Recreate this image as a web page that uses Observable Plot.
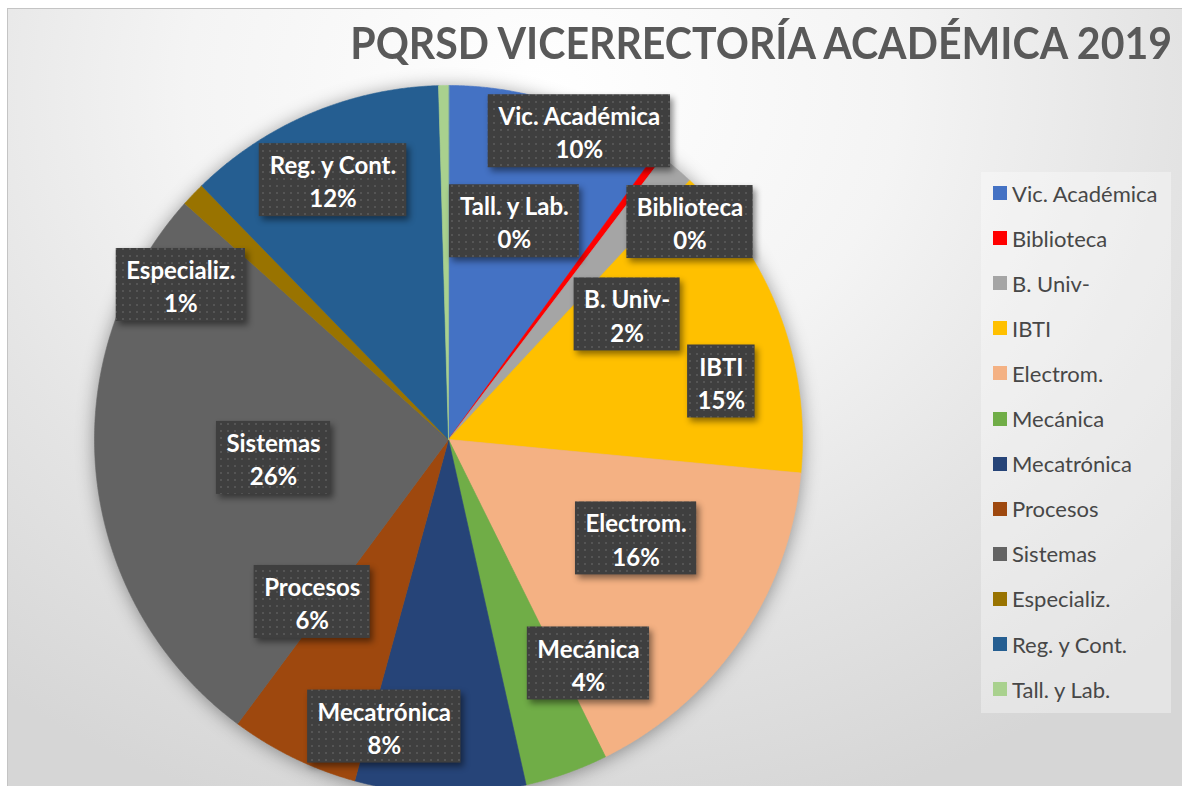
<!DOCTYPE html>
<html>
<head>
<meta charset="utf-8">
<script src="https://cdn.jsdelivr.net/npm/d3@7"></script>
<script src="https://cdn.jsdelivr.net/npm/@observablehq/plot@0.6"></script>
<style>
  html, body { margin: 0; padding: 0; background: #ffffff; }
  #chart { position: relative; width: 1182px; height: 786px; overflow: hidden; background: #ffffff; }
  #frame { position: absolute; left: 7px; top: 8px; width: 1190px; height: 800px;
    border: 1.5px solid #c4c4c4;
    background: radial-gradient(ellipse 75% 95% at 45% 10%, #ffffff 0%, #f4f4f4 40%, #e4e4e4 70%, #d6d6d6 100%); }
  #plot { position: absolute; left: 0; top: 0; }
  #title { position: absolute; right: 10px; top: 20px; white-space: nowrap;
    font-family: Lato, "Open Sans", sans-serif; font-weight: 700; font-size: 44px; line-height: 44px;
    color: #595959; transform-origin: right center; }
  #legend { position: absolute; left: 981px; top: 172px; width: 190px; height: 541px;
    background: rgba(255,255,255,0.35); font-family: Lato, "Open Sans", sans-serif; font-size: 22px; color: #474747; }
  .item { position: absolute; left: 12px; height: 24px; display: flex; align-items: center; white-space: nowrap; }
  .sw { width: 14px; height: 14px; margin-right: 5px; flex: none; }
  g[aria-label="line"] { filter: drop-shadow(0px 2px 9px rgba(0,0,0,0.38)); }
  g.boxes { filter: drop-shadow(3px 4px 3px rgba(0,0,0,0.45)); }
</style>
</head>
<body>
<div id="chart">
  <div id="frame"></div>
  <div id="plot"></div>
  <div id="title">PQRSD VICERRECTORÍA ACADÉMICA 2019</div>
  <div id="legend"></div>
</div>
<script>
// ---- data ----
const names = ["Vic. Académica", "Biblioteca", "B. Univ-", "IBTI", "Electrom.", "Mecánica",
  "Mecatrónica", "Procesos", "Sistemas", "Especializ.", "Reg. y Cont.", "Tall. y Lab."];
const values = [10.0, 0.35, 1.6, 14.6, 16.2, 3.8, 7.8, 5.9, 26.5, 1.1, 11.85, 0.45];
const colors = ["#4472C4", "#FF0000", "#A5A5A5", "#FFC000", "#F4B183", "#70AD47",
  "#264478", "#9E480E", "#636363", "#997300", "#255E91", "#A9D18E"];

// ---- layout of the manually placed data labels (polar: degrees clockwise from 12 o'clock, fraction of radius) ----
const labelAngle  = [23, 48, 55, 78, 117.8, 148, 192.6, 220, 264, 300, 336, 16.8];
const labelRadius = [0.946, 0.918, 0.616, 0.788, 0.599, 0.746, 0.831, 0.599, 0.497, 0.873, 0.802, 0.644];

const R = 354, CX = 448, CY = 439;
const total = d3.sum(values);
const pct = d3.format(".0%");

function draw() {
  // slices as closed polygons
  const slices = [];
  let acc = 0;
  values.forEach((v, i) => {
    const a0 = acc / total * 2 * Math.PI;
    acc += v;
    const a1 = acc / total * 2 * Math.PI;
    slices.push({name: names[i], x: 0, y: 0});
    const n = Math.max(4, Math.ceil((a1 - a0) / (Math.PI / 720)));
    for (let k = 0; k <= n; k++) {
      const a = a0 + (a1 - a0) * k / n;
      slices.push({name: names[i], x: Math.sin(a), y: Math.cos(a)});
    }
  });

  // labels
  const ctx = document.createElement("canvas").getContext("2d");
  ctx.font = "bold 24px Lato";
  const labels = names.map((name, i) => {
    const t = labelAngle[i] * Math.PI / 180;
    const lx = labelRadius[i] * Math.sin(t), ly = labelRadius[i] * Math.cos(t);
    const p = pct(values[i] / total);
    const w = Math.max(ctx.measureText(name).width, ctx.measureText(p).width) / 2 + 10;
    const h = 36.5;
    return {name, text: name + "\n" + p, lx, ly,
      x1: lx - w / R, x2: lx + w / R, y1: ly - h / R, y2: ly + h / R};
  });

  const svg = Plot.plot({
    width: 1182, height: 786, margin: 0,
    style: {background: "transparent", overflow: "hidden"},
    x: {domain: [-1, 1], range: [CX - R, CX + R], axis: null},
    y: {domain: [-1, 1], range: [CY + R, CY - R], axis: null},
    color: {domain: names, range: colors},
    marks: [
      Plot.line(slices, {x: "x", y: "y", z: "name", fill: "name", stroke: "name", strokeWidth: 0.6, curve: "linear-closed"}),
      Plot.rect(labels, {x1: "x1", x2: "x2", y1: "y1", y2: "y2", fill: "url(#dots)"}),
      Plot.text(labels, {x: "lx", y: "ly", text: "text", fill: "white", fontWeight: "bold",
        fontFamily: "Lato", fontSize: 24, lineHeight: 1.38})
    ]
  });
  const s = d3.select(svg);
  const defs = s.insert("defs", ":first-child");
  const pat = defs.append("pattern").attr("id", "dots").attr("width", 7).attr("height", 7)
    .attr("patternUnits", "userSpaceOnUse");
  pat.append("rect").attr("width", 7).attr("height", 7).attr("fill", "#3f3f3f");
  pat.append("rect").attr("x", 3).attr("y", 3).attr("width", 2).attr("height", 2).attr("fill", "#555555");
  s.selectAll('g[aria-label="rect"]').classed("boxes", true);
  document.getElementById("plot").appendChild(svg);

  // legend
  const leg = d3.select("#legend");
  names.forEach((n, i) => {
    const it = leg.append("div").attr("class", "item").style("top", (21 - 12 + i * 45.1) + "px");
    it.append("div").attr("class", "sw").style("background", colors[i]);
    it.append("span").text(n);
  });

  // title width fit
  const title = document.getElementById("title");
  const w = title.getBoundingClientRect().width;
  title.style.transform = `scaleX(${822 / w})`;
}

(document.fonts && document.fonts.load ? Promise.all([
  document.fonts.load("bold 24px Lato"), document.fonts.load("22px Lato")]).catch(() => {}) : Promise.resolve())
  .then(draw);
</script>
</body>
</html>
